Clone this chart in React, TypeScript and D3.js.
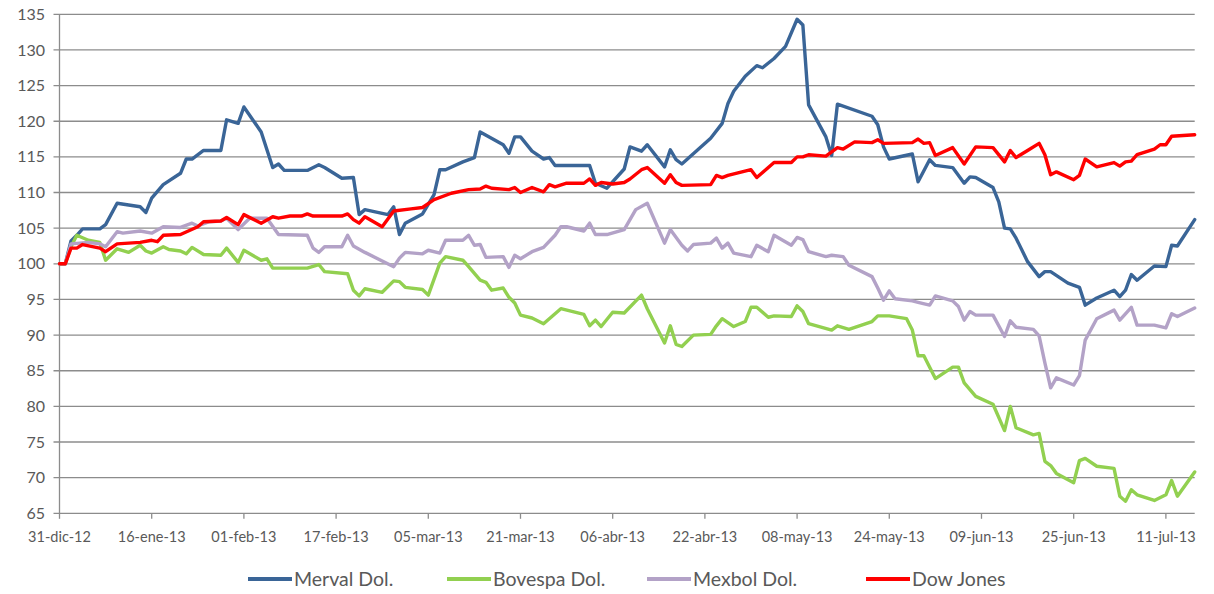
import * as d3 from 'd3'

// x axis: one label every 16 days starting 31-dic-12
const tickLabels = ['31-dic-12', '16-ene-13', '01-feb-13', '17-feb-13', '05-mar-13', '21-mar-13', '06-abr-13', '22-abr-13', '08-may-13', '24-may-13', '09-jun-13', '25-jun-13', '11-jul-13']
const tickDays = [0, 16, 32, 48, 64, 80, 96, 112, 128, 144, 160, 176, 192]
const yTicks = [65, 70, 75, 80, 85, 90, 95, 100, 105, 110, 115, 120, 125, 130, 135]

// days counted from 31-dic-12
const mervalDays = [
  0, 1, 2, 3, 4, 7, 8, 10, 14, 15, 16, 18, 21, 22, 23, 25, 28, 29, 31, 32,
  35, 37, 38, 39, 43, 45, 46, 49, 51, 52, 53, 57, 58, 59, 60, 63, 65, 66, 67, 70,
  72, 73, 77, 78, 79, 80, 82, 84, 85, 86, 92, 93, 95, 98, 99, 101, 102, 105, 106, 107,
  108, 113, 115, 116, 117, 119, 121, 122, 124, 126, 128, 129, 130, 133, 134, 135, 141, 142, 143, 144,
  148, 149, 151, 152, 155, 157, 158, 159, 162, 163, 164, 165, 166, 168, 170, 171, 172, 175, 177, 178,
  180, 183, 184, 185, 186, 187, 190, 192, 193, 194, 197,
]
const mervalValues = [
  100, 100, 103.2, 104.0, 104.9, 104.9, 105.5, 108.5, 108.0, 107.2, 109.2, 111.1, 112.7, 114.7, 114.7, 115.9, 115.9, 120.2, 119.7, 122.0,
  118.5, 113.5, 114.0, 113.1, 113.1, 113.9, 113.5, 112.0, 112.1, 106.9, 107.6, 106.9, 108.0, 104.1, 105.7, 107.0, 109.7, 113.2, 113.2, 114.3,
  114.9, 118.5, 116.7, 115.5, 117.8, 117.8, 115.8, 114.7, 114.9, 113.8, 113.8, 111.3, 110.6, 113.3, 116.4, 115.8, 116.7, 113.6, 116.0, 114.6,
  114.0, 117.6, 119.7, 122.5, 124.2, 126.3, 127.8, 127.5, 128.8, 130.5, 134.3, 133.5, 122.3, 117.8, 115.2, 122.4, 120.7, 119.5, 116.4, 114.7,
  115.4, 111.5, 114.6, 113.8, 113.5, 111.3, 112.2, 112.1, 110.7, 108.7, 105.0, 104.9, 103.6, 100.3, 98.2, 98.9, 98.9, 97.3, 96.7, 94.2,
  95.2, 96.3, 95.4, 96.3, 98.5, 97.7, 99.7, 99.6, 102.6, 102.5, 106.2,
]

const bovespaDays = [
  0, 1, 2, 3, 5, 7, 8, 10, 12, 14, 15, 16, 18, 19, 21, 22, 23, 25, 28, 29,
  31, 32, 35, 36, 37, 43, 45, 46, 50, 51, 52, 53, 56, 58, 59, 60, 63, 64, 66, 67,
  70, 71, 73, 74, 75, 77, 78, 79, 80, 82, 84, 87, 91, 92, 93, 94, 96, 98, 101, 102,
  105, 106, 107, 108, 110, 113, 114, 115, 117, 119, 120, 121, 123, 124, 127, 128, 129, 130, 134, 135,
  137, 141, 142, 144, 147, 148, 149, 150, 152, 155, 156, 157, 159, 162, 164, 165, 166, 169, 170, 171,
  172, 173, 176, 177, 178, 180, 183, 184, 185, 186, 187, 190, 192, 193, 194, 197,
]
const bovespaValues = [
  100, 100, 102.4, 104.0, 103.3, 103.0, 100.5, 102.1, 101.6, 102.6, 101.8, 101.5, 102.4, 102.0, 101.8, 101.4, 102.3, 101.3, 101.2, 102.2,
  100.2, 101.9, 100.5, 100.7, 99.4, 99.4, 99.9, 98.9, 98.6, 96.3, 95.5, 96.5, 96.0, 97.6, 97.5, 96.7, 96.4, 95.6, 100.1, 101.0,
  100.5, 99.6, 97.7, 97.4, 96.3, 96.6, 95.3, 94.5, 92.8, 92.4, 91.6, 93.7, 92.9, 91.3, 92.1, 91.2, 93.2, 93.1, 95.6, 93.7,
  88.9, 91.3, 88.7, 88.4, 90.0, 90.1, 91.3, 92.3, 91.2, 91.9, 93.9, 93.9, 92.5, 92.7, 92.6, 94.1, 93.3, 91.6, 90.7, 91.3,
  90.8, 91.9, 92.7, 92.7, 92.3, 90.7, 87.1, 87.1, 83.9, 85.5, 85.5, 83.3, 81.4, 80.3, 76.6, 80.0, 77.0, 76.0, 76.2, 72.3,
  71.7, 70.6, 69.3, 72.4, 72.7, 71.6, 71.3, 67.4, 66.7, 68.3, 67.6, 66.8, 67.6, 69.6, 67.4, 70.8,
]

const mexbolDays = [
  0, 1, 2, 5, 7, 8, 10, 11, 14, 16, 18, 21, 23, 24, 26, 28, 29, 31, 33, 36,
  38, 43, 44, 45, 46, 49, 50, 51, 53, 58, 59, 60, 63, 64, 66, 67, 70, 71, 72, 73,
  74, 77, 78, 79, 80, 82, 84, 86, 87, 88, 91, 92, 93, 95, 98, 100, 102, 105, 106, 108,
  109, 110, 113, 114, 115, 116, 117, 120, 121, 123, 124, 127, 128, 129, 130, 133, 134, 136, 137, 141,
  142, 143, 144, 145, 148, 149, 151, 152, 155, 156, 157, 158, 159, 162, 164, 165, 166, 169, 170, 171,
  172, 173, 176, 177, 178, 180, 183, 184, 186, 187, 190, 192, 193, 194, 197,
]
const mexbolValues = [
  100, 100, 102.8, 103.0, 102.8, 102.4, 104.5, 104.3, 104.6, 104.3, 105.2, 105.1, 105.7, 105.3, 105.9, 106.0, 106.4, 104.8, 106.4, 106.4,
  104.1, 104.0, 102.2, 101.6, 102.4, 102.4, 104.0, 102.5, 101.6, 99.6, 100.8, 101.6, 101.4, 101.9, 101.5, 103.3, 103.3, 104.0, 102.6, 102.7,
  100.9, 101.0, 99.5, 101.2, 100.7, 101.7, 102.3, 104.0, 105.2, 105.2, 104.6, 105.7, 104.1, 104.1, 104.8, 107.6, 108.5, 102.9, 104.8, 102.6,
  101.8, 102.7, 102.9, 103.6, 102.2, 102.9, 101.5, 101.0, 102.6, 101.7, 104.0, 102.6, 103.7, 103.4, 101.7, 101.0, 101.2, 101.0, 99.8, 98.2,
  96.6, 94.9, 96.2, 95.1, 94.8, 94.6, 94.2, 95.5, 94.8, 94.0, 92.1, 93.3, 92.8, 92.8, 89.8, 92.0, 91.1, 90.8, 89.9, 86.1,
  82.6, 84.0, 83.0, 84.3, 89.3, 92.3, 93.5, 92.1, 93.9, 91.4, 91.4, 91.0, 93.0, 92.6, 93.8,
]

const dowDays = [
  0, 1, 2, 3, 4, 7, 8, 10, 14, 16, 17, 18, 21, 24, 25, 28, 29, 31, 32, 35,
  37, 38, 40, 42, 43, 44, 49, 50, 51, 52, 53, 56, 58, 61, 63, 65, 68, 71, 73, 74,
  75, 78, 79, 80, 82, 84, 85, 86, 88, 91, 92, 93, 94, 96, 98, 99, 101, 102, 105, 106,
  107, 108, 113, 114, 115, 116, 120, 121, 124, 127, 128, 129, 130, 133, 135, 136, 138, 141, 142, 143,
  148, 149, 150, 151, 152, 155, 157, 159, 162, 164, 165, 166, 168, 170, 171, 172, 173, 176, 177, 178,
  180, 183, 184, 185, 186, 187, 190, 191, 192, 193, 197,
]
const dowValues = [
  100, 100, 102.2, 102.2, 102.7, 102.2, 101.7, 102.8, 103.0, 103.3, 103.1, 104.0, 104.1, 105.2, 105.9, 106.0, 106.5, 105.5, 106.9, 105.7,
  106.6, 106.4, 106.7, 106.7, 107.0, 106.7, 106.7, 107.0, 106.2, 105.7, 106.6, 105.2, 107.4, 107.7, 107.9, 109.0, 109.9, 110.4, 110.5, 110.9,
  110.6, 110.4, 110.7, 110.0, 110.7, 110.1, 111.1, 110.8, 111.3, 111.3, 111.9, 111.0, 111.4, 111.2, 111.4, 111.9, 113.2, 113.5, 111.3, 112.5,
  111.4, 111.0, 111.1, 112.4, 112.1, 112.4, 113.2, 112.1, 114.2, 114.2, 115.0, 115.0, 115.3, 115.1, 116.3, 116.1, 117.1, 117.0, 117.4, 116.9,
  117.0, 117.5, 116.9, 117.0, 115.2, 116.3, 114.0, 116.4, 116.3, 114.3, 115.9, 114.9, 115.9, 116.9, 115.3, 112.5, 112.9, 111.8, 112.4, 114.7,
  113.6, 114.2, 113.7, 114.3, 114.4, 115.3, 116.1, 116.7, 116.7, 117.9, 118.1,
]

const seriesNames = ['Merval Dol.', 'Bovespa Dol.', 'Mexbol Dol.', 'Dow Jones']
const seriesColors = ['#3A6597', '#92D050', '#B3A2C7', '#FF0000']

const W = 1214
const H = 594
const FONT = 'Lato, "Open Sans", sans-serif'
const TEXT = '#595959'
const GRID = '#8C8C8C'

const start = new Date(2012, 11, 31)
const toDate = (d: number) => d3.timeDay.offset(start, d)

export default function App() {
  const x = d3.scaleTime().domain([start, toDate(197)]).range([59.5, 1194.7])
  const y = d3.scaleLinear().domain([65, 135]).range([513.3, 14.3])

  const series = [
    [mervalDays, mervalValues],
    [bovespaDays, bovespaValues],
    [mexbolDays, mexbolValues],
    [dowDays, dowValues],
  ].map(([days, vals]) => days.map((d, i) => [toDate(d), vals[i]] as [Date, number]))

  const line = d3
    .line<[Date, number]>()
    .x((d) => x(d[0]))
    .y((d) => y(d[1]))

  const legendX = [248, 447, 647, 866]

  return (
    <svg
      width={W}
      height={H}
      style={{ position: 'absolute', left: 0, top: 0, background: '#fff' }}
      fontFamily={FONT}
    >
      {/* horizontal grid + y labels */}
      {yTicks.map((t) => (
        <g key={t}>
          <line x1={53.5} x2={1194.7} y1={y(t)} y2={y(t)} stroke={GRID} strokeWidth={1.3} />
          <text x={45} y={y(t)} dy="0.35em" textAnchor="end" fontSize={16} fill={TEXT}>
            {t}
          </text>
        </g>
      ))}
      {/* y axis line */}
      <line x1={59.5} x2={59.5} y1={y(135)} y2={y(65)} stroke={GRID} strokeWidth={1.3} />

      {/* x ticks + labels */}
      {tickDays.map((d, i) => (
        <g key={d}>
          <line x1={x(toDate(d))} x2={x(toDate(d))} y1={y(65)} y2={y(65) + 5.5} stroke={GRID} strokeWidth={1.3} />
          <text x={x(toDate(d))} y={541.5} textAnchor="middle" fontSize={14.5} fill={TEXT}>
            {tickLabels[i]}
          </text>
        </g>
      ))}

      {/* series */}
      {series.map((s, i) => (
        <path
          key={seriesNames[i]}
          d={line(s) ?? ''}
          fill="none"
          stroke={seriesColors[i]}
          strokeWidth={3.4}
          strokeLinejoin="round"
          strokeLinecap="round"
        />
      ))}

      {/* legend */}
      {seriesNames.map((name, i) => (
        <g key={name} transform={`translate(${legendX[i]},579)`}>
          <line x1={0} x2={44} y1={0} y2={0} stroke={seriesColors[i]} strokeWidth={3.8} />
          <text x={46} y={0} dy="0.35em" fontSize={19.5} fill={TEXT}>
            {name}
          </text>
        </g>
      ))}
    </svg>
  )
}
